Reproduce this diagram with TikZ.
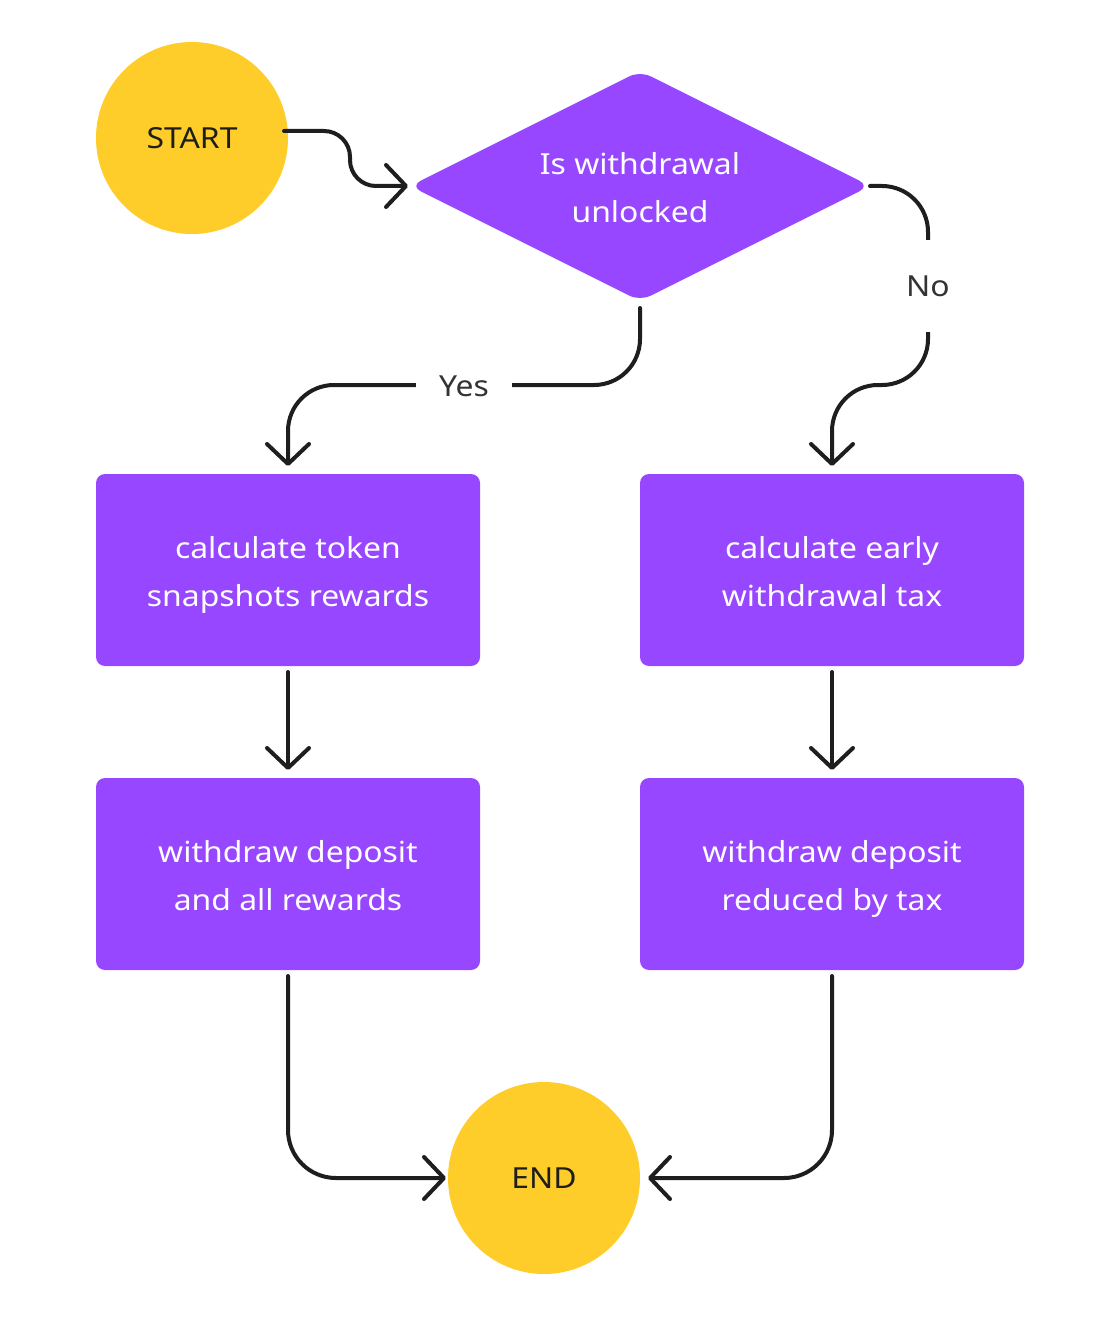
\documentclass[tikz,border=0pt]{standalone}
\usepackage{fontspec}
\setmainfont{Noto Sans}[FakeStretch=1.1]
\usetikzlibrary{arrows.meta,shapes.geometric,calc}
\definecolor{fpurple}{HTML}{9747FF}
\definecolor{fyellow}{HTML}{FFCD29}
\definecolor{fline}{HTML}{1E1E1E}
\definecolor{flabel}{HTML}{333333}
\newcommand{\phtop}{\rule{0pt}{31pt}}
\newcommand{\phbot}{\vphantom{y}}
\begin{document}
\begin{tikzpicture}[x=1pt,y=-1pt,
  txt/.style={font=\fontsize{29}{48}\selectfont, align=center},
  term/.style={circle, fill=fyellow, minimum size=192pt, inner sep=0pt, outer sep=0pt, txt, text=fline},
  procbox/.style={rectangle, rounded corners=9pt, fill=fpurple, minimum width=384pt, minimum height=192pt, inner sep=0pt, outer sep=0pt, txt, text=white},
  decide/.style={diamond, aspect=2, fill=fpurple, rounded corners=12pt, minimum width=460pt, minimum height=230pt, inner sep=0pt, outer sep=0pt, txt, text=white},
  conn/.style={draw=fline, line width=4pt, line cap=round, line join=round,
    -{Straight Barb[length=20pt 0 0, width=42pt 0 0, round]}},
  lab/.style={fill=white, inner sep=0pt, txt, text=flabel}
]
\useasboundingbox (0,0) rectangle (1110,1321);

\node[term] (start) at (192,138) {START};
\node[decide] (dia) at (640,186) {\phtop Is withdrawal\\unlocked\phbot};
\node[procbox] (b1) at (288,570) {\phtop calculate token\\snapshots rewards\phbot};
\node[procbox] (b2) at (832,570) {\phtop calculate early\\withdrawal tax\phbot};
\node[procbox] (b3) at (288,874) {\phtop withdraw deposit\\and all rewards\phbot};
\node[procbox] (b4) at (832,874) {\phtop withdraw deposit\\reduced by tax\phbot};
\node[term] (end) at (544,1178) {END};

% START -> decision
\draw[conn, rounded corners=26pt] (start.east) ++(-4,-7) -- ++(66,0) -- ++(0,55) -- ($(dia.west)+(-2,0)$);

% Yes branch
\draw[conn, rounded corners=46pt] (dia.south) ++(0,7) -- (640,385) -- (288,385) -- ($(b1.north)+(0,-8)$);
\node[lab, minimum width=96pt, minimum height=20pt] (yes) at (464,386) {Yes};

% No branch
\draw[conn, rounded corners=46pt] (dia.east) ++(0,0) -- (928,186) -- (928,385) -- (832,385) -- ($(b2.north)+(0,-8)$);
\node[lab, minimum width=40pt, minimum height=92pt] (no) at (928,286) {No};

% vertical arrows
\draw[conn] (b1.south) ++(0,6) -- ($(b3.north)+(0,-8)$);
\draw[conn] (b2.south) ++(0,6) -- ($(b4.north)+(0,-8)$);

% to END
\draw[conn, rounded corners=48pt] (b3.south) ++(0,6) |- ($(end.west)+(-2,0)$);
\draw[conn, rounded corners=48pt] (b4.south) ++(0,6) |- ($(end.east)+(8,0)$);
\end{tikzpicture}
\end{document}
